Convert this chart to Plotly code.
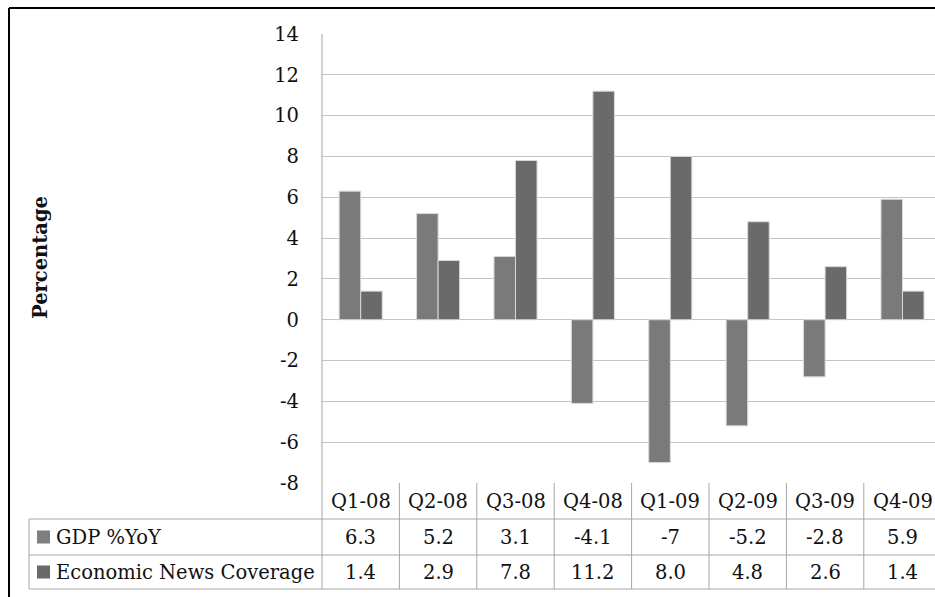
import plotly.graph_objects as go

quarters = ["Q1-08", "Q2-08", "Q3-08", "Q4-08", "Q1-09", "Q2-09", "Q3-09", "Q4-09"]
gdp = [6.3, 5.2, 3.1, -4.1, -7, -5.2, -2.8, 5.9]
news = [1.4, 2.9, 7.8, 11.2, 8.0, 4.8, 2.6, 1.4]
gdp_labels = ["6.3", "5.2", "3.1", "-4.1", "-7", "-5.2", "-2.8", "5.9"]
news_labels = ["1.4", "2.9", "7.8", "11.2", "8.0", "4.8", "2.6", "1.4"]
y_tickvals = [-8, -6, -4, -2, 0, 2, 4, 6, 8, 10, 12, 14]
y_ticktext = ["-8", "-6", "-4", "-2", "0", "2", "4", "6", "8", "10", "12", "14"]
series_names = ["GDP %YoY", "Economic News Coverage"]
series_colors = ["#7a7a7a", "#6a6a6a"]

W, H = 935, 597
L, R, T, B = 322, 0, 34, 114
pw, ph = W - L - R, H - T - B
FONT = "DejaVu Serif"
GRID = "#c4c4c4"
TB = "#a6a6a6"
TXT = "#111111"

def px_to_xp(px):
    return (px - L) / pw

def px_to_yp(py):
    return (H - B - py) / ph

n = len(quarters)
xs = list(range(n))
cat_px = 77.4
xmax = -0.5 + pw / cat_px

fig = go.Figure()
for name, vals, col in zip(series_names, [gdp, news], series_colors):
    fig.add_trace(go.Bar(x=xs, y=vals, name=name, marker=dict(color=col, line=dict(color="#d8d8d8", width=1))))

shapes = []
anns = []
row_tops = [483, 519, 555, 589]
yp = [px_to_yp(v) for v in row_tops]
left_tab = px_to_xp(29)

for y in yp[1:]:
    shapes.append(dict(type="line", xref="paper", yref="paper", x0=left_tab, x1=1.02, y0=y, y1=y, line=dict(color=TB, width=1)))
shapes.append(dict(type="line", xref="paper", yref="paper", x0=left_tab, x1=left_tab, y0=yp[1], y1=yp[3], line=dict(color=TB, width=1)))
shapes.append(dict(type="line", xref="paper", yref="paper", x0=0, x1=0, y0=1, y1=yp[3], line=dict(color=TB, width=1)))
for i in range(n - 1):
    shapes.append(dict(type="line", xref="x", yref="paper", x0=i + 0.5, x1=i + 0.5, y0=0, y1=yp[3], line=dict(color=TB, width=1)))

rows = [quarters, gdp_labels, news_labels]
for r, labels in enumerate(rows):
    yc = (yp[r] + yp[r + 1]) / 2
    for i, t in enumerate(labels):
        anns.append(dict(x=i, y=yc, xref="x", yref="paper", text=t, showarrow=False,
                         font=dict(family=FONT, size=19.5, color=TXT), xanchor="center", yanchor="middle"))

for r, (name, col) in enumerate(zip(series_names, series_colors)):
    yc = (yp[r + 1] + yp[r + 2]) / 2
    hs = 6.5 / ph
    shapes.append(dict(type="rect", xref="paper", yref="paper", x0=px_to_xp(37), x1=px_to_xp(50), y0=yc - hs, y1=yc + hs,
                       fillcolor="#7f7f7f" if r == 0 else "#6a6a6a", line=dict(width=0)))
    anns.append(dict(x=px_to_xp(54), y=yc, xref="paper", yref="paper", text=name, showarrow=False,
                     font=dict(family=FONT, size=19.5, color=TXT), xanchor="left", yanchor="middle"))

anns.append(dict(x=px_to_xp(40), y=px_to_yp(258), xref="paper", yref="paper", text="<b>Percentage</b>", textangle=-90,
                 showarrow=False, font=dict(family=FONT, size=19.5, color=TXT), xanchor="center", yanchor="middle"))

shapes.append(dict(type="line", xref="paper", yref="paper", x0=px_to_xp(9), x1=1.05, y0=px_to_yp(8), y1=px_to_yp(8), line=dict(color="black", width=2)))
shapes.append(dict(type="line", xref="paper", yref="paper", x0=px_to_xp(9), x1=px_to_xp(9), y0=px_to_yp(8), y1=px_to_yp(600), line=dict(color="black", width=2)))

fig.update_layout(
    width=W, height=H,
    margin=dict(l=L, r=R, t=T, b=B, pad=0),
    paper_bgcolor="white", plot_bgcolor="white",
    barmode="group", bargap=0.444, bargroupgap=0,
    showlegend=False,
    shapes=shapes, annotations=anns,
    xaxis=dict(range=[-0.5, xmax], showticklabels=False, showgrid=False, zeroline=False, showline=False, ticks=""),
    yaxis=dict(range=[-8, 14], tickvals=y_tickvals, ticktext=y_ticktext, showgrid=True, gridcolor=GRID, gridwidth=1,
               zeroline=True, zerolinecolor=GRID, zerolinewidth=1, showline=False, ticks="",
               ticklabelstandoff=22, tickfont=dict(family=FONT, size=19.5, color=TXT)),
)
fig.write_html("out.html")
